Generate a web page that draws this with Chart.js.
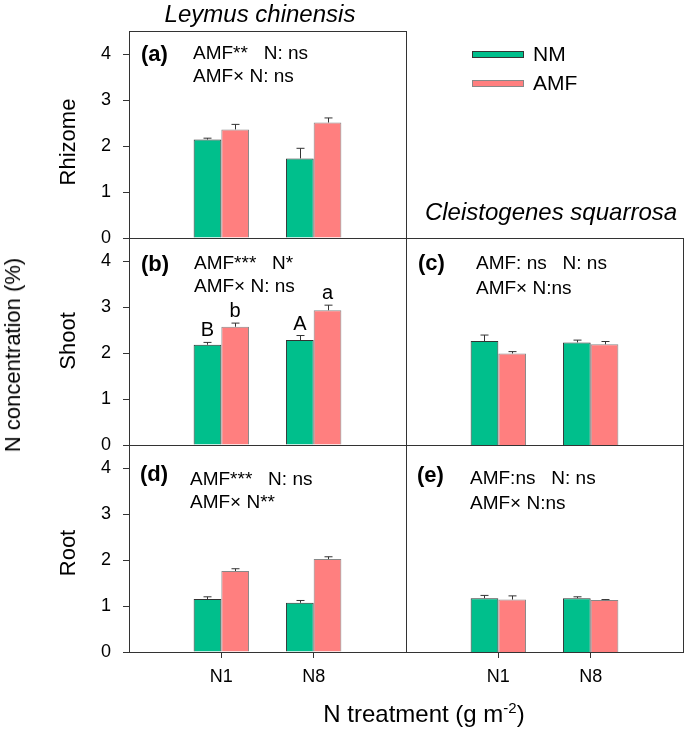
<!DOCTYPE html>
<html>
<head>
<meta charset="utf-8">
<script src="https://cdn.jsdelivr.net/npm/chart.js@4.4.1/dist/chart.umd.min.js"></script>
<style>
  html, body { margin: 0; padding: 0; background: #fff; }
  #wrap { position: relative; width: 685px; height: 729px; overflow: hidden; background: #fff; }
  #wrap canvas { position: absolute; left: 0; top: 0; }
  .t { position: absolute; line-height: 1; white-space: nowrap; color: #000;
       font-family: "Liberation Sans", Arial, sans-serif; }
  .c { transform: translateX(-50%); }
  .rot { transform: translate(-50%, -50%) rotate(-90deg); line-height: 1; }
  .lab { font-size: 22px; font-weight: bold; }
  .ann { font-size: 19px; }
  .sw { position: absolute; width: 50px; height: 5px; border: 1px solid #333; }
</style>
</head>
<body>
<div id="wrap">
  <canvas id="pa" width="685" height="729"></canvas>
  <canvas id="pb" width="685" height="729"></canvas>
  <canvas id="pc" width="685" height="729"></canvas>
  <canvas id="pd" width="685" height="729"></canvas>
  <canvas id="pe" width="685" height="729"></canvas>

  <div class="t c" style="left:260px; top:2px; font-size:24px; font-style:italic;">Leymus chinensis</div>
  <div class="t c" style="left:551px; top:200px; font-size:24px; font-style:italic;">Cleistogenes squarrosa</div>

  <div class="t rot" style="left:13px; top:355px; font-size:22px;">N concentration (%)</div>
  <div class="t rot" style="left:68px; top:142px; font-size:22px;">Rhizome</div>
  <div class="t rot" style="left:68px; top:341px; font-size:22px;">Shoot</div>
  <div class="t rot" style="left:68px; top:553px; font-size:22px;">Root</div>

  <div class="t c" style="left:424px; top:702px; font-size:24px;">N treatment (g m<sup style="font-size:15px; vertical-align:9px; line-height:0;">-2</sup>)</div>

  <div class="sw" style="left:472px; top:51px; background:#00bf8c;"></div>
  <div class="t" style="left:533px; top:43px; font-size:21px;">NM</div>
  <div class="sw" style="left:472px; top:80px; background:#ff7f7f; border-color:#888;"></div>
  <div class="t" style="left:533px; top:72px; font-size:21px;">AMF</div>

  <div class="t lab" style="left:141px; top:43px;">(a)</div>
  <div class="t ann" style="left:193px; top:43px;">AMF**&nbsp;&nbsp;&nbsp;N: ns</div>
  <div class="t ann" style="left:193px; top:66px;">AMF× N: ns</div>

  <div class="t lab" style="left:141px; top:253px;">(b)</div>
  <div class="t ann" style="left:194px; top:253px;">AMF***&nbsp;&nbsp;&nbsp;N*</div>
  <div class="t ann" style="left:194px; top:276px;">AMF× N: ns</div>

  <div class="t lab" style="left:418px; top:252px;">(c)</div>
  <div class="t ann" style="left:476px; top:253px;">AMF: ns&nbsp;&nbsp;&nbsp;N: ns</div>
  <div class="t ann" style="left:476px; top:278px;">AMF× N:ns</div>

  <div class="t lab" style="left:140px; top:463px;">(d)</div>
  <div class="t ann" style="left:190px; top:469px;">AMF***&nbsp;&nbsp;&nbsp;N: ns</div>
  <div class="t ann" style="left:190px; top:492px;">AMF× N**</div>

  <div class="t lab" style="left:417px; top:464px;">(e)</div>
  <div class="t ann" style="left:470px; top:468px;">AMF:ns&nbsp;&nbsp;&nbsp;N: ns</div>
  <div class="t ann" style="left:470px; top:493px;">AMF× N:ns</div>
</div>

<script>
// ---- data ----
const treatments = ["N1", "N8"];
const yTicks = [0, 1, 2, 3, 4];

// Leymus chinensis
const lcRhizomeNM = [2.14, 1.73];
const lcRhizomeNMErr = [0.03, 0.22];
const lcRhizomeAMF = [2.36, 2.51];
const lcRhizomeAMFErr = [0.11, 0.10];

const lcShootNM = [2.18, 2.28];
const lcShootNMErr = [0.05, 0.10];
const lcShootAMF = [2.57, 2.93];
const lcShootAMFErr = [0.08, 0.11];
const lcShootNMLetters = ["B", "A"];
const lcShootAMFLetters = ["b", "a"];

const lcRootNM = [1.15, 1.07];
const lcRootNMErr = [0.05, 0.05];
const lcRootAMF = [1.76, 2.02];
const lcRootAMFErr = [0.05, 0.05];

// Cleistogenes squarrosa
const csShootNM = [2.26, 2.23];
const csShootNMErr = [0.13, 0.05];
const csShootAMF = [1.99, 2.19];
const csShootAMFErr = [0.04, 0.06];

const csRootNM = [1.17, 1.17];
const csRootNMErr = [0.06, 0.03];
const csRootAMF = [1.14, 1.13];
const csRootAMFErr = [0.08, 0.01];

const NM_COLOR = "#00bf8c";
const AMF_COLOR = "#ff7f7f";
const W = 685, H = 729;
const Y_W = 50, X_H = 40;

// empty slot on each side of the two treatments
const labels = ["", ...treatments, ""];
const pad = arr => [null, ...arr, null];

// error bars, letters and the panel frame
const panelPlugin = {
  id: "panelExtras",
  afterDatasetsDraw(chart) {
    const ctx = chart.ctx;
    const yScale = chart.scales.y;
    const area = chart.chartArea;

    chart.data.datasets.forEach((ds, i) => {
      const meta = chart.getDatasetMeta(i);
      meta.data.forEach((bar, j) => {
        const v = ds.data[j];
        if (v == null) return;
        const e = ds.err[j];
        const yTop = yScale.getPixelForValue(v + e);
        ctx.save();
        ctx.strokeStyle = "#333";
        ctx.lineWidth = 1;
        ctx.beginPath();
        const x = Math.round(bar.x) + 0.5;
        ctx.moveTo(x, bar.y);
        ctx.lineTo(x, yTop);
        ctx.moveTo(x - 4, yTop);
        ctx.lineTo(x + 4, yTop);
        ctx.stroke();
        if (ds.letters) {
          ctx.fillStyle = "#000";
          ctx.font = '20px "Liberation Sans", Arial, sans-serif';
          ctx.textAlign = "center";
          ctx.textBaseline = "alphabetic";
          ctx.fillText(ds.letters[j], bar.x, yTop - 6);
        }
        ctx.restore();
      });
    });

    ctx.save();
    ctx.strokeStyle = "#333";
    ctx.lineWidth = 1;
    ctx.strokeRect(area.left + 0.5, area.top + 0.5, area.right - area.left, area.bottom - area.top);
    ctx.restore();
  }
};

function makePanel(id, box, nm, nmErr, amf, amfErr, showY, showX, letters) {
  const ctx = document.getElementById(id).getContext("2d");
  return new Chart(ctx, {
    type: "bar",
    data: {
      labels: labels,
      datasets: [
        {
          label: "NM",
          data: pad(nm),
          err: pad(nmErr),
          letters: letters ? pad(letters[0]) : null,
          backgroundColor: NM_COLOR,
          borderColor: "#333",
          borderWidth: 1
        },
        {
          label: "AMF",
          data: pad(amf),
          err: pad(amfErr),
          letters: letters ? pad(letters[1]) : null,
          backgroundColor: AMF_COLOR,
          borderColor: "#888",
          borderWidth: 1
        }
      ]
    },
    options: {
      responsive: false,
      animation: false,
      devicePixelRatio: 1,
      layout: {
        padding: {
          left: showY ? box.left - Y_W : box.left,
          top: box.top,
          right: W - box.right,
          bottom: showX ? H - box.bottom - X_H : H - box.bottom
        }
      },
      datasets: {
        bar: { categoryPercentage: 0.6, barPercentage: 1.0 }
      },
      plugins: {
        legend: { display: false },
        tooltip: { enabled: false }
      },
      scales: {
        x: {
          type: "category",
          offset: false,
          display: showX,
          grid: { offset: false, drawOnChartArea: false, drawTicks: true, tickLength: 6, color: "#333" },
          border: { display: false },
          ticks: {
            color: "#000",
            padding: 8,
            maxRotation: 0,
            autoSkip: false,
            font: { family: '"Liberation Sans", Arial, sans-serif', size: 18 }
          },
          afterBuildTicks: s => { s.ticks = s.ticks.filter(t => labels[t.value] !== ""); },
          afterFit: s => { s.height = showX ? X_H : 0; }
        },
        y: {
          min: 0,
          max: 4.5,
          display: showY,
          grid: { drawOnChartArea: false, drawTicks: true, tickLength: 6, color: "#333" },
          border: { display: false },
          ticks: {
            color: "#000",
            padding: 12,
            font: { family: '"Liberation Sans", Arial, sans-serif', size: 18 }
          },
          afterBuildTicks: s => { s.ticks = yTicks.map(v => ({ value: v })); },
          afterFit: s => { s.width = showY ? Y_W : 0; }
        }
      }
    },
    plugins: [panelPlugin]
  });
}

const LEFT = { left: 129, right: 406 };
const RIGHT = { left: 406, right: 683 };

makePanel("pa", { ...LEFT, top: 31, bottom: 238 }, lcRhizomeNM, lcRhizomeNMErr, lcRhizomeAMF, lcRhizomeAMFErr, true, false);
makePanel("pb", { ...LEFT, top: 238, bottom: 445 }, lcShootNM, lcShootNMErr, lcShootAMF, lcShootAMFErr, true, false,
  [lcShootNMLetters, lcShootAMFLetters]);
makePanel("pc", { ...RIGHT, top: 238, bottom: 445 }, csShootNM, csShootNMErr, csShootAMF, csShootAMFErr, false, false);
makePanel("pd", { ...LEFT, top: 445, bottom: 652 }, lcRootNM, lcRootNMErr, lcRootAMF, lcRootAMFErr, true, true);
makePanel("pe", { ...RIGHT, top: 445, bottom: 652 }, csRootNM, csRootNMErr, csRootAMF, csRootAMFErr, false, true);
</script>
</body>
</html>
